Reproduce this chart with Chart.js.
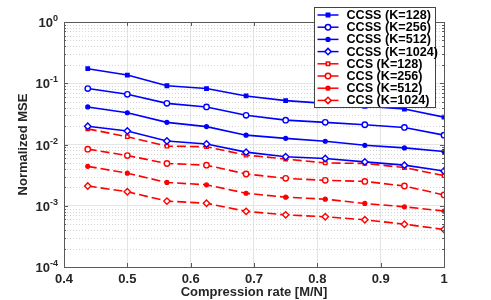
<!DOCTYPE html>
<html>
<head>
<meta charset="utf-8">
<script src="https://cdn.jsdelivr.net/npm/chart.js@4"></script>
<style>
  body { margin: 0; background: #fff; }
  canvas { display: block; }
</style>
</head>
<body>
<canvas id="mseChart" width="491" height="300"></canvas>
<script>
"use strict";

// compression rate M/N
const rates = [0.4375, 0.5, 0.5625, 0.625, 0.6875, 0.75, 0.8125, 0.875, 0.9375, 1];

const ccss128  = [0.173, 0.136, 0.091, 0.082, 0.062, 0.052, 0.047, 0.042, 0.038, 0.028];
const ccss256  = [0.082, 0.066, 0.047, 0.041, 0.030, 0.025, 0.023, 0.021, 0.019, 0.0142];
const ccss512  = [0.041, 0.033, 0.023, 0.0196, 0.0142, 0.0126, 0.0113, 0.0097, 0.0088, 0.0077];
const ccss1024 = [0.0199, 0.0166, 0.0114, 0.0102, 0.0075, 0.0063, 0.0059, 0.0052, 0.0046, 0.0037];
const ccs128   = [0.018, 0.0134, 0.0094, 0.0092, 0.0067, 0.0058, 0.0050, 0.0049, 0.0042, 0.0031];
const ccs256   = [0.0084, 0.0066, 0.0049, 0.0046, 0.0033, 0.0028, 0.0026, 0.0025, 0.0021, 0.0015];
const ccs512   = [0.0044, 0.0034, 0.0024, 0.0022, 0.0016, 0.00138, 0.00128, 0.00109, 0.00096, 0.00082];
const ccs1024  = [0.0021, 0.00169, 0.00119, 0.0011, 0.00081, 0.00071, 0.00066, 0.00059, 0.0005, 0.00041];

const yTicks = [1e-4, 1e-3, 1e-2, 1e-1, 1];
const yExps = ['-4', '-3', '-2', '-1', '0'];
const xTicks = [0.4, 0.5, 0.6, 0.7, 0.8, 0.9, 1];
const xLabels = ['0.4', '0.5', '0.6', '0.7', '0.8', '0.9', '1'];

const FONT = "'Liberation Sans', Arial, sans-serif";
const BLUE = '#0000ff';
const RED = '#ff0000';

function series(label, vals, color, style, radius, filled, dashed) {
    return {
        label: label,
        data: vals.map(function (v, i) { return { x: rates[i], y: v }; }),
        borderColor: color,
        backgroundColor: color,
        borderWidth: 1.6,
        borderDash: dashed ? [9, 4] : [],
        pointStyle: style,
        pointRadius: radius,
        pointBorderWidth: 1.4,
        pointBorderColor: color,
        pointBackgroundColor: filled ? color : '#ffffff',
        tension: 0,
        fill: false
    };
}

const datasets = [
    series('CCSS (K=128)', ccss128, BLUE, 'rect', 2.4, true, false),
    series('CCSS (K=256)', ccss256, BLUE, 'circle', 2.7, false, false),
    series('CCSS (K=512)', ccss512, BLUE, 'circle', 1.9, true, false),
    series('CCSS (K=1024)', ccss1024, BLUE, 'rectRot', 3.2, false, false),
    series('CCS (K=128)', ccs128, RED, 'rect', 2.4, false, true),
    series('CCS (K=256)', ccs256, RED, 'circle', 2.7, false, true),
    series('CCS (K=512)', ccs512, RED, 'circle', 1.9, true, true),
    series('CCS (K=1024)', ccs1024, RED, 'rectRot', 3.2, false, true)
];

// minor dotted grid, axes box, ticks, y labels, titles and legend (matlab look)
const matlabLook = {
    id: 'matlabLook',
    beforeDatasetsDraw: function (chart) {
        const ctx = chart.ctx, a = chart.chartArea, y = chart.scales.y;
        ctx.save();
        ctx.strokeStyle = '#d4d4d4';
        ctx.lineWidth = 1;
        ctx.setLineDash([1, 2]);
        for (let d = 0; d < yTicks.length - 1; d++) {
            for (let k = 2; k <= 9; k++) {
                const py = Math.round(y.getPixelForValue(yTicks[d] * k)) + 0.5;
                ctx.beginPath();
                ctx.moveTo(a.left, py);
                ctx.lineTo(a.right, py);
                ctx.stroke();
            }
        }
        ctx.restore();
    },
    afterDraw: function (chart) {
        const ctx = chart.ctx, a = chart.chartArea;
        const xs = chart.scales.x, ys = chart.scales.y;
        ctx.save();
        ctx.setLineDash([]);
        ctx.strokeStyle = '#5a5a5a';
        ctx.lineWidth = 1;
        ctx.strokeRect(Math.round(a.left) + 0.5, Math.round(a.top) + 0.5,
            Math.round(a.right - a.left), Math.round(a.bottom - a.top));

        ctx.beginPath();
        xTicks.forEach(function (v) {
            const px = Math.round(xs.getPixelForValue(v)) + 0.5;
            ctx.moveTo(px, a.bottom); ctx.lineTo(px, a.bottom - 4);
            ctx.moveTo(px, a.top); ctx.lineTo(px, a.top + 4);
        });
        for (let d = 0; d < yTicks.length; d++) {
            const py = Math.round(ys.getPixelForValue(yTicks[d])) + 0.5;
            ctx.moveTo(a.left, py); ctx.lineTo(a.left + 4, py);
            ctx.moveTo(a.right, py); ctx.lineTo(a.right - 4, py);
            if (d < yTicks.length - 1) {
                for (let k = 2; k <= 9; k++) {
                    const pm = Math.round(ys.getPixelForValue(yTicks[d] * k)) + 0.5;
                    ctx.moveTo(a.left, pm); ctx.lineTo(a.left + 2, pm);
                    ctx.moveTo(a.right, pm); ctx.lineTo(a.right - 2, pm);
                }
            }
        }
        ctx.stroke();

        // y tick labels 10^n
        ctx.fillStyle = '#262626';
        ctx.textBaseline = 'alphabetic';
        for (let d = 0; d < yTicks.length; d++) {
            const py = ys.getPixelForValue(yTicks[d]);
            ctx.font = 'bold 9px ' + FONT;
            const ew = ctx.measureText(yExps[d]).width;
            const ex = a.left - 6 - ew;
            ctx.textAlign = 'left';
            ctx.fillText(yExps[d], ex, py - 1);
            ctx.font = 'bold 13px ' + FONT;
            ctx.textAlign = 'right';
            ctx.fillText('10', ex, py + 5);
        }

        // axis titles
        ctx.font = 'bold 13px ' + FONT;
        ctx.textAlign = 'center';
        ctx.textBaseline = 'middle';
        ctx.fillText('Compression rate [M/N]', (a.left + a.right) / 2, 292);
        ctx.save();
        ctx.translate(23, (a.top + a.bottom) / 2);
        ctx.rotate(-Math.PI / 2);
        ctx.fillText('Normalized MSE', 0, 0);
        ctx.restore();

        // legend
        const bx = 314.5, by = 7.5, bw = 121, bh = 100, row = 12.2;
        ctx.fillStyle = '#ffffff';
        ctx.fillRect(bx, by, bw, bh);
        ctx.strokeStyle = '#444444';
        ctx.lineWidth = 1;
        ctx.strokeRect(bx, by, bw, bh);
        chart.data.datasets.forEach(function (ds, i) {
            const cy = by + 7.5 + i * row;
            ctx.save();
            ctx.strokeStyle = ds.borderColor;
            ctx.lineWidth = 1.5;
            ctx.beginPath();
            ctx.moveTo(bx + 3, cy);
            ctx.lineTo(bx + 24, cy);
            ctx.stroke();
            ctx.fillStyle = ds.pointBackgroundColor;
            ctx.strokeStyle = ds.pointBorderColor;
            Chart.helpers.drawPoint(ctx, {
                pointStyle: ds.pointStyle,
                radius: ds.pointRadius,
                rotation: 0,
                borderWidth: ds.pointBorderWidth
            }, bx + 13.5, cy);
            ctx.restore();
            ctx.fillStyle = '#000000';
            ctx.font = 'bold 12.6px ' + FONT;
            ctx.textAlign = 'left';
            ctx.textBaseline = 'middle';
            ctx.fillText(ds.label, bx + 32, cy + 0.5);
        });
        ctx.restore();
    }
};

new Chart(document.getElementById('mseChart').getContext('2d'), {
    type: 'line',
    data: { datasets: datasets },
    options: {
        responsive: false,
        animation: false,
        layout: { padding: { top: 22, right: 47, left: 0, bottom: 0 } },
        plugins: {
            legend: { display: false },
            tooltip: { enabled: false }
        },
        scales: {
            x: {
                type: 'linear',
                min: 0.4,
                max: 1,
                afterFit: function (s) { s.height = 33; },
                afterBuildTicks: function (s) {
                    s.ticks = xTicks.map(function (v) { return { value: v }; });
                },
                border: { display: false },
                grid: { color: '#e4e4e4', drawTicks: false },
                ticks: {
                    padding: 5,
                    color: '#262626',
                    font: { family: FONT, size: 13, weight: 'bold' },
                    callback: function (v, i) { return xLabels[i]; }
                }
            },
            y: {
                type: 'logarithmic',
                min: 1e-4,
                max: 1,
                afterFit: function (s) { s.width = 64; },
                afterBuildTicks: function (s) {
                    s.ticks = yTicks.map(function (v) { return { value: v, major: true }; });
                },
                border: { display: false },
                grid: { color: '#e4e4e4', drawTicks: false },
                ticks: { display: false }
            }
        }
    },
    plugins: [matlabLook]
});
</script>
</body>
</html>
